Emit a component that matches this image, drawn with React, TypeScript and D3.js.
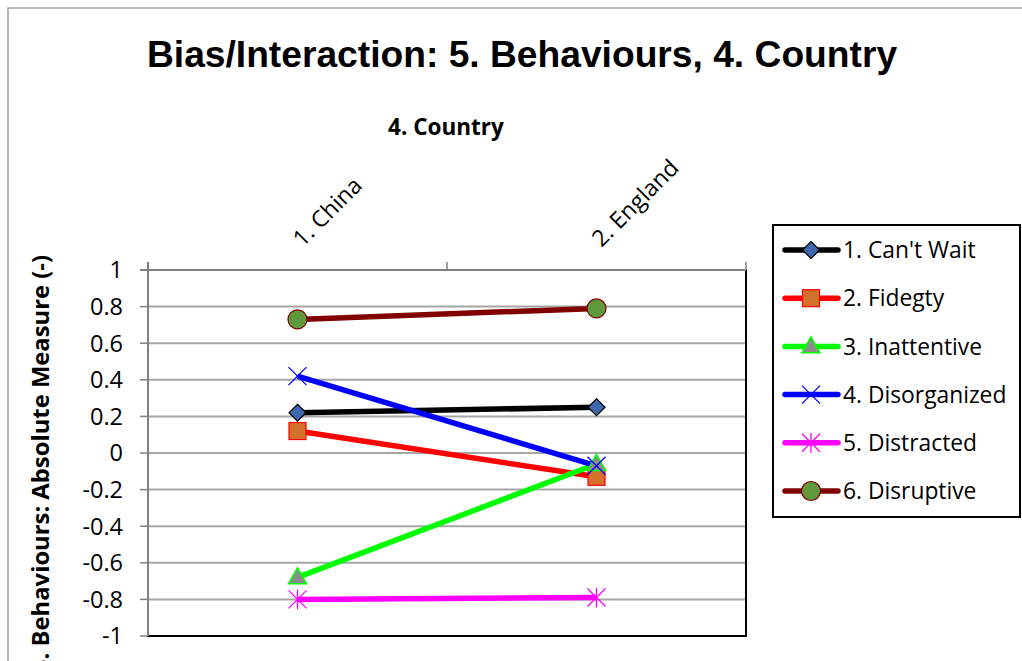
import React from "react";
import * as d3 from "d3";

const categories = ["1. China", "2. England"];
const seriesNames = ["1. Can't Wait", "2. Fidegty", "3. Inattentive", "4. Disorganized", "5. Distracted", "6. Disruptive"];
const canWait = [0.22, 0.25];
const fidegty = [0.12, -0.13];
const inattentive = [-0.68, -0.06];
const disorganized = [0.42, -0.07];
const distracted = [-0.8, -0.79];
const disruptive = [0.73, 0.79];
const yTicks = [1, 0.8, 0.6, 0.4, 0.2, 0, -0.2, -0.4, -0.6, -0.8, -1];

const seriesValues = [canWait, fidegty, inattentive, disorganized, distracted, disruptive];
const lineColors = ["#000000", "#ff0000", "#00ff00", "#0000ff", "#ff00ff", "#800000"];
const markerTypes = ["diamond", "square", "triangle", "x", "star", "circle"];

const W = 1022, H = 661;
const plot = { left: 148, right: 746, top: 270, bottom: 636 };
const LFONT = "'Open Sans', 'Noto Sans', sans-serif";

function Marker({ type, x, y }: { type: string; x: number; y: number }) {
  switch (type) {
    case "diamond": {
      const r = 8.5;
      return <path d={`M${x},${y - r}L${x + r},${y}L${x},${y + r}L${x - r},${y}Z`} fill="#3f67ae" stroke="#000" strokeWidth={1.2} />;
    }
    case "square": {
      const s = 17;
      return <rect x={x - s / 2} y={y - s / 2} width={s} height={s} fill="#d2702c" stroke="#ff0000" strokeWidth={1.2} />;
    }
    case "triangle": {
      const w = 18, h = 16;
      return <path d={`M${x},${y - h * 0.6}L${x + w / 2},${y + h * 0.4}L${x - w / 2},${y + h * 0.4}Z`} fill="#8c8c8c" stroke="#00ff00" strokeWidth={1.5} />;
    }
    case "x": {
      const r = 9;
      return <path d={`M${x - r},${y - r}L${x + r},${y + r}M${x - r},${y + r}L${x + r},${y - r}`} stroke="#0000ff" strokeWidth={1.3} fill="none" />;
    }
    case "star": {
      const r = 9;
      return <path d={`M${x - r},${y - r}L${x + r},${y + r}M${x - r},${y + r}L${x + r},${y - r}M${x},${y - r * 1.1}L${x},${y + r * 1.1}`} stroke="#ff00ff" strokeWidth={1.3} fill="none" />;
    }
    default:
      return <circle cx={x} cy={y} r={9.5} fill="#5e9a3c" stroke="#800000" strokeWidth={1.2} />;
  }
}

export default function App() {
  const x = d3.scaleBand().domain(categories).range([plot.left, plot.right]);
  const y = d3.scaleLinear().domain([-1, 1]).range([plot.bottom, plot.top]);
  const cx = (c: string) => (x(c) as number) + x.bandwidth() / 2;
  const line = d3.line<[number, number]>().x((d) => d[0]).y((d) => d[1]);

  const legendX = 773, legendY = 225, legendW = 247, legendH = 292;
  const legendRowY = (i: number) => 250 + i * 48.2;

  return (
    <svg width={W} height={H} style={{ position: "absolute", left: 0, top: 0, background: "#fff" }}>
      {/* chart border */}
      <path d={`M8,${H}L8,8L${W},8`} fill="none" stroke="#a0a0a0" strokeWidth={1.5} />
      {/* title */}
      <text x={522} y={67} textAnchor="middle" fontFamily="'Liberation Sans', Arial, sans-serif" fontWeight="bold" fontSize={37.2}>
        Bias/Interaction: 5. Behaviours, 4. Country
      </text>
      <text x={446} y={135} textAnchor="middle" fontFamily={LFONT} fontWeight="bold" fontSize={22.5}>
        4. Country
      </text>
      {/* gridlines */}
      {yTicks.map((t) => (
        <line key={"g" + t} x1={plot.left} x2={plot.right} y1={y(t)} y2={y(t)} stroke="#a6a6a6" strokeWidth={2} />
      ))}
      {/* plot border */}
      <rect x={plot.left} y={plot.top} width={plot.right - plot.left} height={plot.bottom - plot.top} fill="none" stroke="#000" strokeWidth={2} />
      {/* y axis */}
      <line x1={plot.left} x2={plot.left} y1={plot.top - 8} y2={plot.bottom} stroke="#808080" strokeWidth={2} />
      {yTicks.map((t) => (
        <g key={"t" + t}>
          <line x1={plot.left - 8} x2={plot.left} y1={y(t)} y2={y(t)} stroke="#808080" strokeWidth={1.5} />
          <text x={123} y={y(t)} dy="0.36em" textAnchor="end" fontFamily={LFONT} fontSize={23.5}>
            {t}
          </text>
        </g>
      ))}
      {/* top x axis */}
      <line x1={plot.left - 8} x2={plot.right} y1={plot.top} y2={plot.top} stroke="#808080" strokeWidth={2} />
      {[plot.left, (plot.left + plot.right) / 2, plot.right].map((tx, i) => (
        <line key={"xt" + i} x1={tx} x2={tx} y1={plot.top - 8} y2={plot.top} stroke="#808080" strokeWidth={1.5} />
      ))}
      {categories.map((c) => (
        <text key={c} transform={`translate(${cx(c) + 5},${plot.top - 22}) rotate(-45)`} textAnchor="start" fontFamily={LFONT} fontSize={23}>
          {c}
        </text>
      ))}
      {/* y title */}
      <text transform={`translate(49,464) rotate(-90)`} textAnchor="middle" fontFamily={LFONT} fontWeight="bold" fontSize={23.8}>
        5. Behaviours: Absolute Measure (-)
      </text>
      {/* series lines */}
      {seriesValues.map((vals, si) => (
        <path
          key={"l" + si}
          d={line(vals.map((v, i) => [cx(categories[i]), y(v)]) as [number, number][]) || ""}
          fill="none"
          stroke={lineColors[si]}
          strokeWidth={5.5}
        />
      ))}
      {seriesValues.map((vals, si) =>
        vals.map((v, i) => <Marker key={"m" + si + "-" + i} type={markerTypes[si]} x={cx(categories[i])} y={y(v)} />)
      )}
      {/* legend */}
      <rect x={legendX} y={legendY} width={legendW} height={legendH} fill="#fff" stroke="#000" strokeWidth={2} />
      {seriesNames.map((n, i) => (
        <g key={n}>
          <line x1={785} x2={838} y1={legendRowY(i)} y2={legendRowY(i)} stroke={lineColors[i]} strokeWidth={5.5} strokeLinecap="round" />
          <Marker type={markerTypes[i]} x={811} y={legendRowY(i)} />
          <text x={843} y={legendRowY(i)} dy="0.36em" fontFamily={LFONT} fontSize={22.8}>
            {n}
          </text>
        </g>
      ))}
    </svg>
  );
}
